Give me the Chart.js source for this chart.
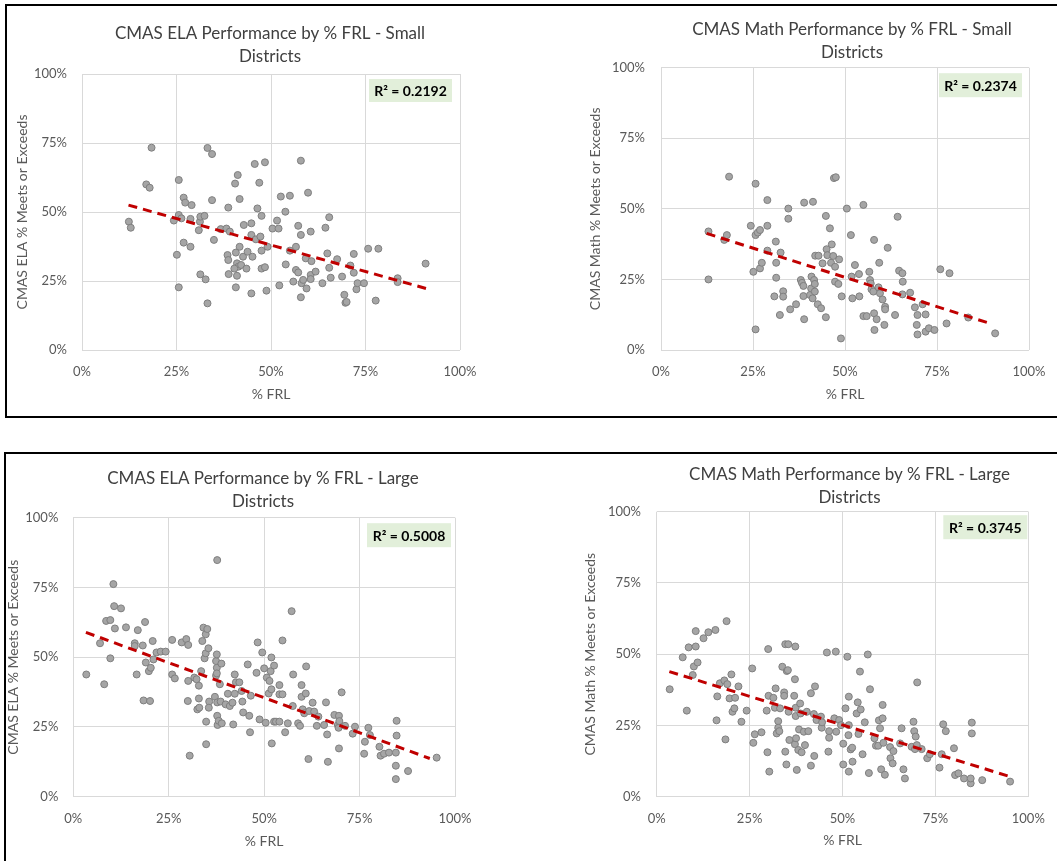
<!DOCTYPE html>
<html>
<head>
<meta charset="utf-8">
<script src="https://cdn.jsdelivr.net/npm/chart.js@4.4.0/dist/chart.umd.min.js"></script>
<style>
  html, body { margin: 0; padding: 0; background: #fff; overflow: hidden; width: 1057px; height: 861px; }
  .frame { position: absolute; border: 2px solid #000; }
  canvas { position: absolute; }
</style>
</head>
<body>
<div class="frame" style="left:5px;top:4px;width:1100px;height:410px"></div>
<div class="frame" style="left:4px;top:452px;width:1100px;height:500px"></div>
<canvas id="elaSmall" width="520" height="404" style="left:10px;top:8px"></canvas>
<canvas id="mathSmall" width="538" height="404" style="left:583px;top:8px"></canvas>
<canvas id="elaLarge" width="522" height="405" style="left:2px;top:456px"></canvas>
<canvas id="mathLarge" width="543" height="405" style="left:578px;top:456px"></canvas>
<script>
// values, in percent

// ELA - small districts
const elaSmallX = [12.4, 12.9, 17.0, 17.9, 18.4, 24.3, 25.1, 25.6, 25.6, 25.6, 26.3, 26.9, 26.9, 27.3, 29.0, 28.7, 28.7,
  30.9, 31.2, 31.3, 32.4, 31.3, 32.7, 33.2, 33.2, 34.4, 34.4, 34.9, 36.7, 38.2, 39.1, 38.7, 38.5, 38.7, 38.8,
  40.5, 41.2, 41.7, 40.7, 41.7, 41.0, 41.4, 40.3, 41.0, 42.1, 40.7, 42.8, 42.6, 43.8, 43.5, 44.8, 44.8, 45.1,
  44.8, 45.7, 46.0, 46.4, 46.9, 47.2, 47.5, 47.5, 47.5, 48.4, 48.4, 48.8, 49.1, 50.4, 51.6, 52.0, 52.2, 52.6,
  53.8, 53.9, 55.0, 55.0, 55.9, 56.6, 56.6, 57.2, 57.2, 57.9, 57.9, 58.1, 57.9, 58.5, 59.2, 59.4, 59.8, 60.5,
  60.5, 60.5, 60.7, 61.8, 63.6, 64.4, 64.9, 65.4, 65.4, 65.8, 67.5, 68.8, 69.4, 69.7, 70.0, 71.0, 71.9, 71.9,
  72.6, 72.9, 74.6, 75.7, 77.7, 78.4, 83.5, 83.5, 90.9];
const elaSmallY = [46.5, 44.3, 60.0, 58.8, 73.3, 46.9, 34.5, 61.6, 22.7, 48.9, 47.7, 55.2, 38.9, 53.4, 52.5, 47.5, 37.4,
  43.4, 46.5, 48.3, 48.6, 27.4, 25.6, 73.2, 16.9, 71.0, 54.3, 39.9, 43.8, 44.0, 42.9, 51.6, 34.4, 32.6, 27.5,
  60.3, 63.4, 54.7, 35.3, 37.4, 31.4, 30.2, 29.5, 26.9, 30.8, 22.7, 45.3, 33.8, 35.6, 29.5, 45.9, 41.7, 33.8,
  20.5, 67.4, 40.1, 51.3, 60.6, 41.1, 48.6, 36.0, 29.5, 68.0, 30.0, 21.5, 37.4, 44.0, 46.9, 44.0, 23.4, 55.6,
  50.1, 31.0, 55.9, 36.0, 24.8, 37.4, 29.0, 45.0, 28.1, 68.6, 41.7, 24.2, 19.1, 25.4, 33.2, 22.3, 57.0, 42.9,
  27.2, 25.7, 32.2, 28.4, 24.2, 44.3, 35.0, 48.1, 29.8, 26.2, 32.9, 26.6, 20.0, 17.1, 17.4, 30.6, 34.8, 28.0,
  22.0, 24.2, 24.2, 36.7, 17.9, 36.7, 26.0, 24.6, 31.3];
const elaSmallTrendX = [12.3, 91.0];
const elaSmallTrendY = [52.5, 22.3];

// Math - small districts
const mathSmallX = [12.9, 12.9, 17.2, 17.9, 18.5, 24.4, 25.1, 25.7, 25.7, 25.7, 26.3, 26.9, 26.9, 27.4, 28.9, 28.9, 28.9,
  30.8, 31.2, 31.3, 31.3, 32.3, 32.5, 33.2, 33.2, 34.6, 34.6, 35.1, 36.7, 38.0, 38.3, 38.7, 38.7, 38.9, 38.9,
  40.9, 40.5, 40.8, 41.2, 41.3, 41.6, 41.8, 41.8, 41.9, 42.8, 42.6, 43.5, 43.9, 44.8, 44.8, 45.0, 45.2, 45.9,
  46.2, 46.4, 46.8, 47.0, 47.5, 47.3, 47.3, 48.2, 48.4, 48.9, 49.1, 50.5, 51.6, 51.8, 52.0, 52.7, 53.8, 53.9,
  55.0, 55.0, 55.9, 56.6, 56.8, 57.0, 57.2, 57.7, 57.9, 57.9, 58.0, 58.6, 59.1, 59.3, 59.5, 60.2, 60.9, 60.9,
  60.7, 61.6, 63.6, 64.3, 64.7, 65.6, 65.7, 65.6, 67.7, 69.0, 69.5, 69.7, 69.7, 71.1, 71.9, 71.9, 72.8, 74.3,
  75.9, 77.6, 78.4, 83.5, 90.8];
const mathSmallY = [25.0, 42.0, 39.0, 40.7, 61.4, 44.0, 27.7, 58.9, 7.3, 40.7, 41.6, 42.5, 28.9, 30.9, 53.1, 44.0, 35.2,
  19.0, 38.4, 30.9, 25.6, 12.4, 34.5, 20.8, 18.9, 50.1, 46.5, 14.4, 16.2, 24.8, 23.8, 22.7, 19.1, 10.9, 52.2,
  26.0, 19.5, 21.8, 18.3, 52.5, 24.8, 23.4, 20.7, 33.4, 33.4, 16.2, 14.8, 30.7, 47.5, 11.6, 35.7, 33.6, 43.1,
  30.9, 37.4, 33.3, 60.9, 61.2, 29.5, 24.2, 23.4, 32.1, 4.1, 19.0, 50.1, 40.7, 26.0, 18.3, 30.1, 26.9, 19.0,
  51.4, 12.0, 12.0, 27.7, 24.8, 23.6, 21.5, 20.7, 39.0, 13.0, 7.1, 10.9, 22.2, 30.9, 20.1, 17.9, 15.3, 14.4,
  8.9, 36.2, 12.4, 47.2, 28.1, 27.2, 24.2, 19.7, 20.3, 15.1, 8.9, 12.4, 5.5, 16.2, 12.6, 6.5, 7.7, 7.1,
  28.6, 9.4, 27.2, 11.5, 5.9];
const mathSmallTrendX = [12.4, 88.7];
const mathSmallTrendY = [41.3, 9.7];

// ELA - large districts
const elaLargeX = [3.4, 7.0, 8.1, 8.6, 9.7, 9.7, 10.5, 10.7, 10.9, 12.5, 13.8, 16.1, 16.1, 16.6, 16.9, 18.2, 18.4, 18.8,
  19.0, 19.8, 20.1, 20.3, 20.8, 21.0, 21.8, 22.9, 24.2, 25.9, 25.9, 26.6, 28.4, 29.6, 30.0, 30.1, 30.1, 30.5,
  31.7, 32.3, 32.5, 32.9, 32.9, 33.0, 33.5, 33.8, 34.1, 34.4, 34.7, 34.7, 34.8, 34.8, 35.1, 35.4, 35.6, 35.5,
  37.1, 37.4, 37.4, 37.6, 37.6, 37.6, 37.7, 37.7, 37.7, 37.8, 38.1, 38.4, 38.6, 38.8, 38.9, 39.9, 40.5, 41.0,
  41.7, 41.9, 42.3, 42.3, 42.6, 43.5, 44.1, 44.3, 44.5, 45.7, 46.1, 46.3, 46.5, 48.0, 48.3, 48.8, 49.5, 50.0,
  50.4, 50.7, 51.2, 51.4, 51.7, 51.9, 51.9, 52.0, 52.6, 52.6, 53.1, 54.0, 54.0, 54.0, 54.8, 54.8, 55.5, 56.2,
  57.2, 57.5, 57.6, 58.9, 59.4, 59.8, 59.8, 60.1, 60.5, 60.9, 61.0, 61.6, 61.8, 62.7, 63.1, 63.8, 64.2, 65.7,
  66.2, 66.5, 66.7, 68.4, 69.3, 69.5, 69.6, 69.6, 69.7, 70.3, 71.2, 73.2, 73.8, 76.4, 76.2, 77.3, 77.7, 80.2,
  80.5, 81.4, 82.7, 84.5, 84.7, 84.7, 84.5, 84.5, 87.7, 95.2];
const elaLargeY = [43.8, 55.0, 40.3, 63.0, 63.3, 49.6, 76.2, 68.3, 60.3, 67.5, 60.7, 55.0, 54.0, 43.8, 59.7, 54.2, 34.5, 62.6,
  48.1, 45.0, 34.3, 46.2, 55.8, 49.2, 51.7, 52.0, 52.0, 56.2, 43.8, 42.4, 55.3, 56.5, 34.3, 54.4, 41.5, 14.7,
  42.7, 42.1, 31.3, 39.8, 35.2, 31.9, 45.0, 55.8, 60.6, 49.6, 58.2, 51.4, 18.8, 26.9, 60.1, 53.2, 34.1, 31.9,
  35.8, 43.4, 48.6, 51.0, 46.2, 44.2, 84.8, 33.8, 29.0, 25.7, 27.2, 40.3, 34.1, 47.7, 26.3, 33.1, 36.9, 32.5,
  33.7, 25.9, 36.9, 43.8, 41.0, 41.0, 37.9, 34.1, 30.2, 47.4, 29.0, 23.1, 36.2, 44.4, 55.3, 27.7, 51.7, 46.0,
  26.5, 42.7, 37.0, 41.5, 45.0, 49.9, 38.5, 19.1, 47.0, 26.9, 26.9, 40.0, 36.7, 26.9, 56.0, 36.7, 23.1, 26.3,
  66.5, 32.5, 43.8, 26.3, 25.4, 40.0, 35.8, 31.3, 29.9, 37.0, 46.7, 13.5, 30.7, 33.7, 30.5, 25.4, 28.7, 25.7,
  33.8, 22.3, 12.5, 29.3, 25.7, 24.7, 29.0, 17.3, 27.1, 37.4, 25.4, 22.6, 25.1, 19.7, 15.4, 24.7, 22.1, 17.9,
  14.7, 15.4, 15.8, 15.8, 27.2, 21.9, 11.1, 6.3, 9.2, 14.0];
const elaLargeTrendX = [3.3, 93.4];
const elaLargeTrendY = [58.9, 13.7];

// Math - large districts
const mathLargeX = [3.5, 7.0, 8.1, 8.6, 9.7, 10.0, 10.5, 10.5, 11.0, 12.6, 13.9, 15.8, 16.1, 16.3, 17.0, 18.2, 18.5, 18.8,
  19.0, 19.6, 20.1, 20.4, 20.9, 21.1, 22.0, 22.8, 24.2, 25.7, 26.0, 26.4, 28.2, 29.6, 29.8, 30.0, 30.1, 30.3,
  31.4, 31.8, 32.0, 32.3, 32.7, 32.7, 33.0, 33.2, 33.8, 34.3, 34.3, 34.6, 34.6, 35.0, 34.9, 35.3, 35.4, 35.5,
  35.7, 37.0, 37.2, 37.2, 37.3, 37.4, 37.4, 37.5, 37.7, 38.1, 38.3, 38.6, 38.7, 39.0, 39.6, 39.9, 40.4, 40.8,
  41.5, 41.5, 42.3, 42.4, 42.6, 43.0, 44.2, 44.4, 44.5, 45.8, 46.2, 46.4, 46.4, 47.8, 48.2, 48.3, 49.1, 49.6,
  50.2, 50.2, 50.8, 51.3, 51.6, 51.7, 51.7, 51.7, 52.2, 52.6, 52.7, 53.8, 54.1, 54.3, 54.7, 54.9, 55.4, 56.0,
  56.8, 57.1, 57.4, 58.6, 59.0, 59.6, 59.8, 60.1, 60.4, 60.8, 60.8, 61.0, 61.4, 62.8, 62.9, 63.5, 63.7, 65.5,
  65.9, 66.4, 66.8, 68.6, 69.1, 69.3, 69.5, 69.7, 70.0, 70.1, 71.3, 72.8, 73.5, 76.1, 76.7, 77.1, 77.8, 80.0,
  80.3, 81.2, 82.7, 84.5, 84.5, 84.8, 84.8, 87.6, 95.1];
const mathLargeY = [37.7, 48.9, 30.2, 52.4, 42.7, 45.7, 58.1, 52.7, 47.1, 55.6, 57.7, 58.5, 26.8, 35.2, 39.8, 40.8, 20.1, 61.6,
  39.5, 34.5, 42.9, 29.8, 31.0, 34.7, 38.7, 26.3, 30.2, 45.0, 18.9, 21.9, 22.6, 30.2, 15.6, 51.8, 35.4, 8.8,
  34.7, 31.2, 38.0, 22.2, 26.5, 24.2, 23.0, 31.0, 45.6, 36.6, 35.4, 15.8, 53.5, 44.1, 11.3, 44.4, 53.5, 29.8,
  19.9, 35.4, 41.2, 18.4, 52.7, 31.2, 28.3, 20.5, 9.4, 16.4, 23.6, 32.7, 29.2, 15.6, 22.8, 18.1, 29.8, 23.0,
  10.9, 36.3, 29.0, 14.3, 38.7, 26.9, 28.1, 24.2, 26.1, 50.6, 15.8, 23.0, 20.7, 27.5, 50.9, 22.8, 26.9, 25.1,
  11.3, 18.6, 31.0, 49.1, 21.6, 35.1, 8.8, 25.1, 16.6, 17.2, 12.3, 29.2, 33.1, 22.0, 43.9, 30.6, 14.9, 26.1,
  49.9, 8.3, 37.7, 20.5, 17.9, 17.9, 26.8, 24.0, 9.6, 32.2, 27.5, 18.9, 7.7, 17.4, 13.5, 11.7, 16.0, 18.7,
  24.0, 9.6, 6.4, 17.5, 26.3, 23.0, 16.7, 21.1, 18.1, 40.1, 16.7, 13.5, 14.9, 10.2, 14.9, 25.4, 23.0, 17.0,
  7.6, 8.2, 6.4, 4.7, 6.4, 26.0, 22.2, 5.8, 5.3];
const mathLargeTrendX = [3.4, 95.2];
const mathLargeTrendY = [43.9, 7.0];

const xTitle = '% FRL';
const r2Labels = ['R\u00b2 = 0.2192', 'R\u00b2 = 0.2374', 'R\u00b2 = 0.5008', 'R\u00b2 = 0.3745'];

Chart.defaults.font.family = 'Lato, "Open Sans", sans-serif';

const toPoints = (xs, ys) => xs.map((x, i) => ({ x: x, y: ys[i] }));

// green R² label in the top right corner of the plot
const r2Box = {
  id: 'r2Box',
  afterDatasetsDraw(chart, args, opts) {
    const { ctx, chartArea } = chart;
    const x = chartArea.right - opts.right - opts.w;
    const y = chartArea.top + opts.top;
    ctx.save();
    ctx.fillStyle = '#e2efda';
    ctx.fillRect(x, y, opts.w, opts.h);
    ctx.fillStyle = '#000';
    ctx.font = 'bold 14px Lato, "Open Sans", sans-serif';
    ctx.textAlign = 'center';
    ctx.textBaseline = 'middle';
    ctx.fillText(opts.text, x + opts.w / 2, y + opts.h / 2 + 1);
    ctx.restore();
  }
};

function makeChart(id, title, yTitle, pts, trend, r2, lay) {
  return new Chart(document.getElementById(id), {
    type: 'scatter',
    data: {
      datasets: [
        {
          data: trend,
          showLine: true,
          borderColor: '#c00000',
          borderWidth: 3,
          borderDash: [9, 6],
          pointRadius: 0
        },
        {
          data: pts,
          backgroundColor: '#a5a5a5',
          borderColor: '#7f7f7f',
          borderWidth: 1,
          pointRadius: 3.5
        }
      ]
    },
    options: {
      responsive: false,
      animation: false,
      layout: { padding: 0 },
      plugins: {
        legend: { display: false },
        tooltip: { enabled: false },
        title: {
          display: true,
          text: title,
          color: '#404040',
          font: { size: 17, weight: 'normal', lineHeight: 1.35 },
          padding: { top: lay.titleTop, bottom: lay.titleBottom }
        },
        r2Box: { text: r2, right: lay.box[0], top: lay.box[1], w: lay.box[2], h: lay.box[3] }
      },
      scales: {
        x: {
          type: 'linear',
          min: 0,
          max: 100,
          ticks: { stepSize: 25, callback: v => v + '%', color: '#595959', font: { size: 13 }, padding: lay.xTickPad },
          grid: { color: '#d9d9d9', drawTicks: false },
          border: { display: false },
          title: { display: true, text: xTitle, color: '#595959', font: { size: 14 }, padding: { top: 0, bottom: lay.xTitlePad } },
          afterFit(s) { s.height = lay.xHeight; }
        },
        y: {
          type: 'linear',
          min: 0,
          max: 100,
          ticks: { stepSize: 25, callback: v => v + '%', color: '#595959', font: { size: 13 }, padding: lay.yTickPad },
          grid: { color: '#d9d9d9', drawTicks: false },
          border: { display: false },
          title: { display: true, text: yTitle, color: '#595959', font: { size: 14 }, padding: { top: lay.yTitlePad, bottom: 0 } },
          afterFit(s) { s.width = lay.yWidth; }
        },
        gap: {
          position: 'right',
          grid: { display: false },
          border: { display: false },
          ticks: { display: false },
          afterFit(s) { s.width = lay.rightGap; }
        }
      }
    },
    plugins: [r2Box]
  });
}

makeChart('elaSmall', ['CMAS ELA Performance by % FRL - Small', 'Districts'], 'CMAS ELA % Meets or Exceeds',
  toPoints(elaSmallX, elaSmallY), toPoints(elaSmallTrendX, elaSmallTrendY), r2Labels[0],
  { yWidth: 72, rightGap: 70, xHeight: 62, titleTop: 14.5, titleBottom: 5.6, yTitlePad: 3.6, yTickPad: 15,
    xTickPad: 14.2, xTitlePad: 9.6, box: [8, 5, 83, 23] });

makeChart('mathSmall', ['CMAS Math Performance by % FRL - Small', 'Districts'], 'CMAS Math % Meets or Exceeds',
  toPoints(mathSmallX, mathSmallY), toPoints(mathSmallTrendX, mathSmallTrendY), r2Labels[1],
  { yWidth: 78, rightGap: 92, xHeight: 62, titleTop: 10.5, titleBottom: 3.3, yTitlePad: 3.6, yTickPad: 16,
    xTickPad: 14.2, xTitlePad: 9.6, box: [7, 5.5, 83, 24] });

makeChart('elaLarge', ['CMAS ELA Performance by % FRL - Large', 'Districts'], 'CMAS ELA % Meets or Exceeds',
  toPoints(elaLargeX, elaLargeY), toPoints(elaLargeTrendX, elaLargeTrendY), r2Labels[2],
  { yWidth: 71.3, rightGap: 69, xHeight: 64.3, titleTop: 10.8, titleBottom: 5, yTitlePad: 2.9, yTickPad: 15,
    xTickPad: 14.5, xTitlePad: 11.6, box: [4, 5.5, 84, 24] });

makeChart('mathLarge', ['CMAS Math Performance by % FRL - Large', 'Districts'], 'CMAS Math % Meets or Exceeds',
  toPoints(mathLargeX, mathLargeY), toPoints(mathLargeTrendX, mathLargeTrendY), r2Labels[3],
  { yWidth: 78.7, rightGap: 92.7, xHeight: 64.3, titleTop: 6.8, titleBottom: 3, yTitlePad: 3.6, yTickPad: 15.7,
    xTickPad: 14.5, xTitlePad: 12.6, box: [1, 3.5, 84, 24] });
</script>
</body>
</html>
